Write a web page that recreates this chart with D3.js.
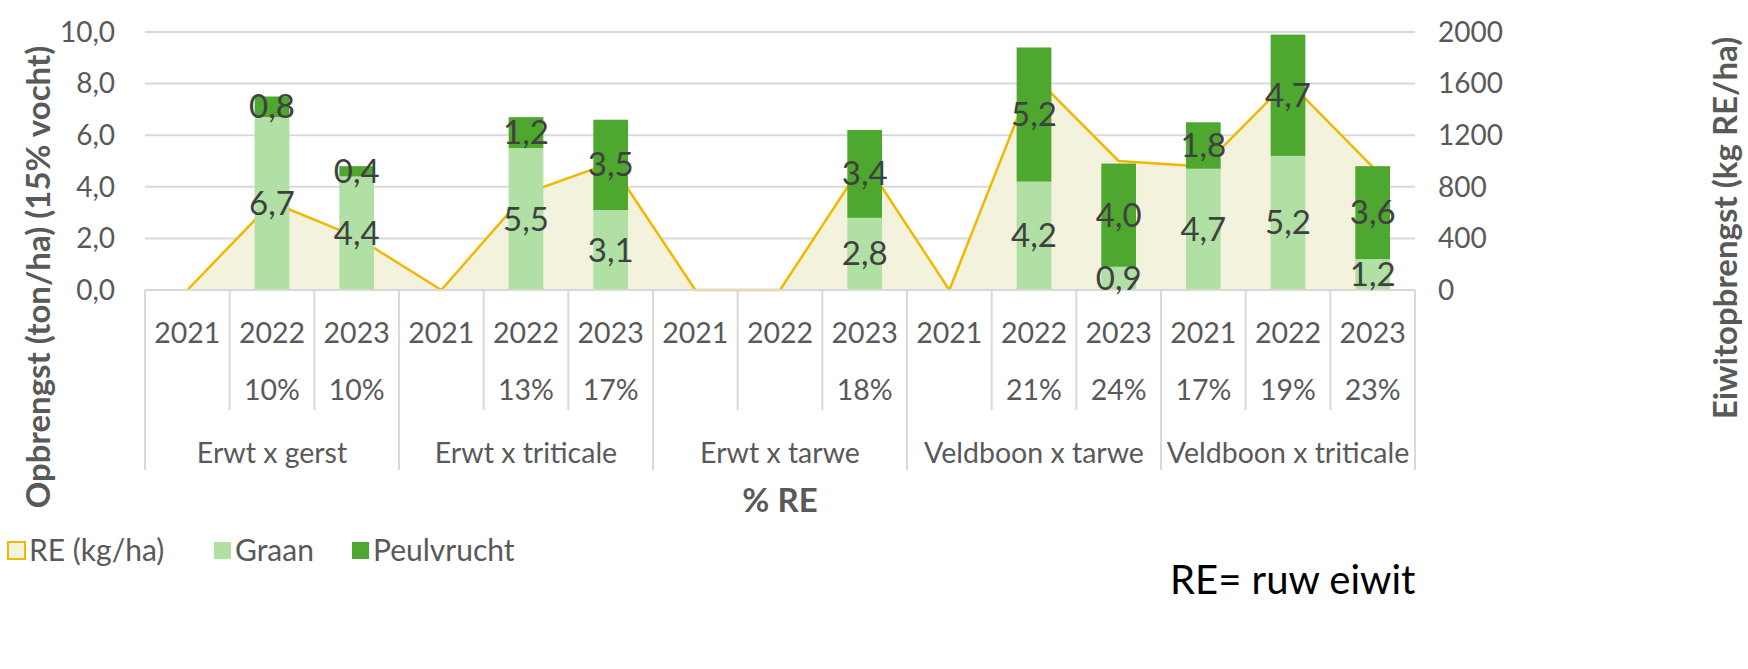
<!DOCTYPE html>
<html><head><meta charset="utf-8">
<script src="https://cdn.jsdelivr.net/npm/d3@7"></script>
<style>
html,body{margin:0;padding:0;background:#fff;}
svg{display:block;font-family:Lato,"Open Sans",sans-serif;}
</style></head><body>
<svg id="c" width="1748" height="669"></svg>
<script>
const groups = ["Erwt x gerst","Erwt x triticale","Erwt x tarwe","Veldboon x tarwe","Veldboon x triticale"];
const years = ["2021","2022","2023"];
const pctRE = ["","10%","10%","","13%","17%","","","18%","","21%","24%","17%","19%","23%"];
const graan = [0,6.7,4.4, 0,5.5,3.1, 0,0,2.8, 0,4.2,0.9, 4.7,5.2,1.2];
const peulvrucht = [0,0.8,0.4, 0,1.2,3.5, 0,0,3.4, 0,5.2,4.0, 1.8,4.7,3.6];
const reKg = [0,680,410, 0,750,985, 0,0,1000, 0,1660,1000, 957,1620,955];
const leftTicks = [0,2,4,6,8,10];
const rightTicks = [0,400,800,1200,1600,2000];

const slots = [];
groups.forEach((g,gi)=>years.forEach((y,yi)=>slots.push({key:gi+"-"+y,group:g,gi,year:y})));

const svg = d3.select("#c");
const X0=145, X1=1415, Ytop=32, Ybot=290;
const x = d3.scaleBand().domain(slots.map(d=>d.key)).range([X0,X1]).paddingInner(0.59).paddingOuter(0.295);
const slot = d3.scaleBand().domain(slots.map(d=>d.key)).range([X0,X1]);
const yL = d3.scaleLinear().domain([0,10]).range([Ybot,Ytop]);
const yR = d3.scaleLinear().domain([0,2000]).range([Ybot,Ytop]);
const grid="#d9d9d9", txt="#595959";

// gridlines
svg.append("g").selectAll("line").data(leftTicks.filter(t=>t>0)).join("line")
  .attr("x1",X0).attr("x2",X1).attr("y1",d=>yL(d)).attr("y2",d=>yL(d))
  .attr("stroke",grid).attr("stroke-width",2);

// RE area + line
const cx = (d,i)=>slot(slots[i].key)+slot.bandwidth()/2;
const area = d3.area().x((d,i)=>cx(d,i)).y0(Ybot).y1(d=>yR(d));
const line = d3.line().x((d,i)=>cx(d,i)).y(d=>yR(d));
svg.append("path").datum(reKg).attr("d",area).attr("fill","#f3f2dc");
svg.append("path").datum(reKg).attr("d",line).attr("fill","none").attr("stroke","#f2b800").attr("stroke-width",2.5).attr("stroke-linejoin","round");

// bars
const stackData = slots.map((s,i)=>({key:s.key,Graan:graan[i],Peulvrucht:peulvrucht[i]}));
const series = d3.stack().keys(["Graan","Peulvrucht"])(stackData);
const colors = {Graan:"#b1e0a4",Peulvrucht:"#4ea72e"};
svg.append("g").selectAll("g").data(series).join("g").attr("fill",d=>colors[d.key])
  .selectAll("rect").data(d=>d).join("rect")
  .attr("x",d=>x(d.data.key)).attr("width",x.bandwidth())
  .attr("y",d=>yL(d[1])).attr("height",d=>yL(d[0])-yL(d[1]));

// axis line
svg.append("line").attr("x1",X0).attr("x2",X1).attr("y1",Ybot).attr("y2",Ybot).attr("stroke",grid).attr("stroke-width",2);

// data labels
const fmt = v=>v.toFixed(1).replace(".",",");
const lbl = svg.append("g").attr("font-size",33).attr("fill","#404040").attr("text-anchor","middle");
series.forEach(s=>{
  s.forEach(d=>{
    const v=d[1]-d[0]; if(v<=0) return;
    lbl.append("text").attr("x",x(d.data.key)+x.bandwidth()/2).attr("y",(yL(d[0])+yL(d[1]))/2)
      .attr("dy","0.35em").text(fmt(v));
  });
});

// left axis ticks
svg.append("g").attr("font-size",28).attr("fill",txt).attr("text-anchor","end")
  .selectAll("text").data(leftTicks).join("text")
  .attr("x",115).attr("y",d=>yL(d)).attr("dy","0.35em").text(d=>fmt(d));
// right axis ticks
svg.append("g").attr("font-size",28).attr("fill",txt).attr("text-anchor","start")
  .selectAll("text").data(rightTicks).join("text")
  .attr("x",1438).attr("y",d=>yR(d)).attr("dy","0.35em").text(d=>d);

// category axis
const cat = svg.append("g").attr("font-size",28.5).attr("fill",txt).attr("text-anchor","middle");
slots.forEach((s,i)=>{
  const c = slot(s.key)+slot.bandwidth()/2;
  cat.append("text").attr("x",c).attr("y",333).attr("dy","0.35em").text(s.year);
  if(pctRE[i]) cat.append("text").attr("x",c).attr("y",390).attr("dy","0.35em").text(pctRE[i]);
});
// separators
slots.forEach((s,i)=>{
  const xb = slot(s.key);
  const isGroup = (i%3===0);
  svg.append("line").attr("x1",xb).attr("x2",xb).attr("y1",Ybot).attr("y2",isGroup?470:410)
    .attr("stroke",grid).attr("stroke-width",2);
});
svg.append("line").attr("x1",X1).attr("x2",X1).attr("y1",Ybot).attr("y2",470).attr("stroke",grid).attr("stroke-width",2);
groups.forEach((g,gi)=>{
  const a = slot(gi+"-2021"), b = slot(gi+"-2023")+slot.bandwidth();
  cat.append("text").attr("x",(a+b)/2).attr("y",453).attr("dy","0.35em").text(g);
});

// axis titles
svg.append("text").attr("transform","translate(38,277) rotate(-90)").attr("text-anchor","middle")
  .attr("dy","0.35em").attr("font-size",33).attr("font-weight","bold").attr("fill",txt).text("Opbrengst (ton/ha) (15% vocht)");
svg.append("text").attr("transform","translate(1725,228) rotate(-90)").attr("text-anchor","middle")
  .attr("dy","0.35em").attr("font-size",33).attr("font-weight","bold").attr("fill",txt).text("Eiwitopbrengst (kg RE/ha)");
svg.append("text").attr("x",(X0+X1)/2).attr("y",500).attr("dy","0.35em").attr("text-anchor","middle")
  .attr("font-size",33).attr("font-weight","bold").attr("fill",txt).text("% RE");

// legend
const legendItems = [
  {name:"RE (kg/ha)",fill:"#f3f2dc",stroke:"#f2b800",x:8},
  {name:"Graan",fill:colors.Graan,stroke:"none",x:214},
  {name:"Peulvrucht",fill:colors.Peulvrucht,stroke:"none",x:352}
];
const lg = svg.append("g");
legendItems.forEach(it=>{
  lg.append("rect").attr("x",it.x).attr("y",542).attr("width",17).attr("height",17)
    .attr("fill",it.fill).attr("stroke",it.stroke).attr("stroke-width",2);
  lg.append("text").attr("x",it.x+21).attr("y",550).attr("dy","0.35em").attr("font-size",30).attr("fill",txt).text(it.name);
});

svg.append("text").attr("x",1170).attr("y",580).attr("dy","0.35em").attr("font-size",40).attr("fill","#000").text("RE= ruw eiwit");
</script></body></html>
